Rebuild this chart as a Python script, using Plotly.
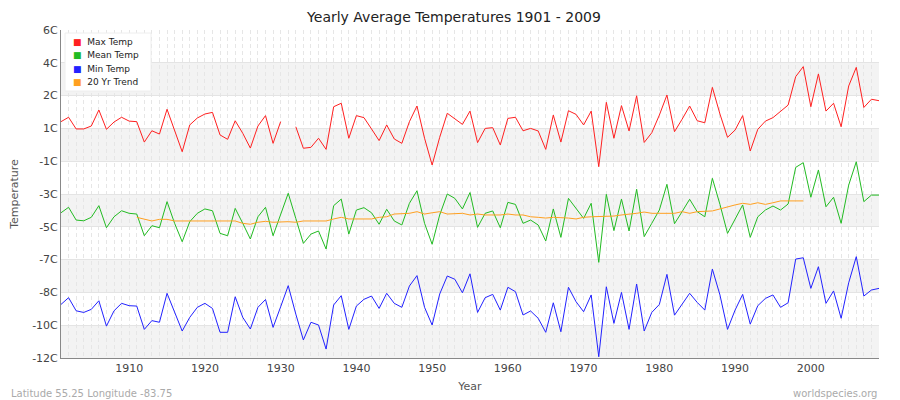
import plotly.graph_objects as go

years = list(range(1901, 2010))
max_temp = [0.97,1.21,0.57,0.57,0.73,1.61,0.55,0.95,1.21,1.0,0.97,-0.15,0.47,0.29,1.65,0.51,-0.68,0.79,1.17,1.39,1.48,0.24,0.0,1.02,0.33,-0.48,0.73,1.3,
 -0.22,0.97,None,0.69,-0.49,-0.44,0.06,-0.55,1.79,1.98,0.06,1.30,1.19,0.57,-0.07,0.79,0.02,-0.22,0.97,1.83,0.06,-1.41,0.11,1.43,1.15,0.82,1.55,
 -0.18,0.6,0.64,-0.31,1.15,1.21,0.47,0.6,0.46,-0.55,1.33,-0.15,1.57,1.37,0.79,1.55,-1.5,2.03,0.06,1.85,0.46,2.39,-0.17,0.36,1.33,2.43,0.42,
 1.10,1.83,1.02,0.91,2.85,1.39,0.11,0.51,1.30,-0.64,0.55,1.0,1.19,1.52,1.88,3.44,3.99,1.79,3.59,1.55,1.98,0.69,2.93,3.95,1.75,2.2,2.12]
mean_temp = [-4.03,-3.73,-4.43,-4.47,-4.28,-3.64,-4.85,-4.25,-3.92,-4.06,-4.10,-5.29,-4.74,-4.85,-3.42,-4.61,-5.62,-4.52,-4.06,-3.82,-3.92,-5.16,-5.29,-3.79,-4.61,-5.47,-4.25,-3.73,
 -5.29,-4.1,-2.96,-4.34,-5.71,-5.2,-5.03,-6.02,-3.64,-3.28,-5.2,-3.88,-3.75,-4.03,-4.66,-3.84,-4.48,-4.70,-3.51,-2.82,-4.61,-5.76,-4.15,-3.0,-3.24,-3.82,-2.92,
 -4.83,-4.06,-3.93,-4.85,-3.46,-3.57,-4.61,-4.43,-4.70,-5.58,-3.82,-5.38,-3.24,-3.79,-4.34,-3.51,-6.75,-3.02,-5.01,-3.28,-5.03,-2.74,-5.34,-4.61,-3.88,-2.47,-4.63,
 -3.97,-3.29,-3.97,-4.25,-2.14,-3.57,-5.16,-4.39,-3.6,-5.38,-4.25,-3.88,-3.66,-3.88,-3.55,-1.54,-1.28,-3.18,-1.68,-3.70,-3.18,-4.61,-2.51,-1.23,-3.42,-3.06,-3.06]
min_temp = [-9.06,-8.69,-9.41,-9.5,-9.33,-8.86,-10.25,-9.41,-9.0,-9.13,-9.15,-10.43,-9.95,-10.04,-8.45,-9.5,-10.52,-9.77,-9.22,-9.0,-9.28,-10.59,-10.59,-8.64,-9.77,-10.41,-9.22,-8.79,
 -10.32,-9.19,-8.03,-9.59,-11.01,-10.04,-10.19,-11.51,-9.09,-8.58,-10.43,-9.15,-8.78,-8.6,-9.28,-8.45,-9.0,-9.22,-8.05,-7.48,-9.22,-10.19,-8.49,-7.5,-7.68,-8.42,-7.38,
 -9.5,-8.69,-8.51,-9.37,-8.12,-8.36,-9.64,-9.42,-9.82,-10.59,-8.97,-10.56,-8.12,-8.91,-9.46,-8.54,-11.93,-8.09,-10.10,-8.40,-10.43,-7.94,-10.52,-9.5,-9.06,-7.41,-9.65,
 -9.06,-8.45,-8.95,-9.37,-7.12,-8.54,-10.43,-9.37,-8.51,-10.14,-9.13,-8.73,-8.54,-9.22,-8.97,-6.57,-6.50,-8.18,-6.99,-9.0,-8.32,-9.82,-7.87,-6.44,-8.6,-8.27,-8.18]
trend_years = list(range(1911, 2000))
trend = [-4.28,-4.39,-4.48,-4.39,-4.39,-4.48,-4.48,-4.48,-4.48,-4.48,-4.48,-4.48,-4.48,-4.48,-4.61,-4.66,-4.55,-4.50,
 -4.55,-4.52,-4.52,-4.55,-4.48,-4.48,-4.48,-4.48,-4.37,-4.28,-4.37,-4.37,-4.37,-4.37,-4.28,-4.25,-4.10,-4.06,-4.06,-3.97,-4.10,-4.03,-3.97,-4.10,-4.06,-4.06,-4.15,
 -4.10,-4.15,-4.15,-4.15,-4.10,-4.15,-4.15,-4.25,-4.28,-4.32,-4.28,-4.28,-4.32,-4.37,-4.28,-4.25,-4.25,-4.25,-4.21,-4.15,-4.12,-4.06,-3.99,-4.06,-4.06,-4.06,-4.06,
 -3.97,-4.06,-3.97,-3.97,-3.93,-3.82,-3.70,-3.60,-3.51,-3.57,-3.48,-3.57,-3.48,-3.38,-3.38,-3.38,-3.38]
y_tickvals = [6,4.2,2.4,0.6,-1.2,-3,-4.8,-6.6,-8.4,-10.2,-12]
y_ticktext = ["6C","4C","2C","1C","-1C","-3C","-5C","-7C","-8C","-10C","-12C"]
x_tickvals = [1910,1920,1930,1940,1950,1960,1970,1980,1990,2000]

series = [("Max Temp", years, max_temp, "#ff2020"), ("Mean Temp", years, mean_temp, "#22bb22"),
          ("Min Temp", years, min_temp, "#2222ff"), ("20 Yr Trend", trend_years, trend, "#ffa020")]

L, T, PW, PH = 53, 22, 818, 328
def px(fx): return (fx - L) / PW
def py(fy): return 1 - (fy - T) / PH

fig = go.Figure()
for name, xs, ys, c in series:
    fig.add_trace(go.Scatter(x=xs, y=ys, mode="lines", line=dict(color=c, width=1), showlegend=False, name=name))

for i in range(len(y_tickvals) - 1):
    if i % 2 == 1:
        fig.add_shape(type="rect", xref="paper", yref="y", x0=0, x1=1,
                      y0=y_tickvals[i+1], y1=y_tickvals[i], fillcolor="#f3f3f3",
                      line_width=0, layer="below")

# legend box
fig.add_shape(type="rect", xref="paper", yref="paper", x0=px(57), x1=px(143), y0=py(83), y1=py(25),
              fillcolor="white", line=dict(color="#eeeeee", width=1), layer="above")
for k, (name, xs, ys, c) in enumerate(series):
    fig.add_annotation(text=f"<span style='color:{c}'>■</span>  {name}", xref="paper", yref="paper",
                       x=px(63), y=py(34 + 13.3 * k), xanchor="left", yanchor="middle", showarrow=False,
                       font=dict(size=9, color="#222"))

fig.update_layout(
    width=892, height=392, paper_bgcolor="white", plot_bgcolor="white",
    margin=dict(l=L, r=21, t=T, b=42, autoexpand=False),
    font=dict(family="DejaVu Sans", size=11, color="#444"),
    showlegend=False,
    title=dict(text="Yearly Average Temperatures 1901 - 2009", x=0.5, xanchor="center", y=0.976,
               yanchor="middle", font=dict(size=14, color="#222")),
    xaxis=dict(range=[1901, 2009], tickvals=x_tickvals, showgrid=False, showline=True,
               linecolor="#888", ticks="", zeroline=False, automargin=False,
               title=dict(text="Year", standoff=8, font=dict(size=11, color="#555")),
               minor=dict(dtick=1, tick0=1901, showgrid=True, gridcolor="#e6e6e6", griddash="4px,3px")),
    yaxis=dict(range=[-12, 6], tickvals=y_tickvals, ticktext=y_ticktext, showgrid=True, automargin=False,
               gridcolor="#e4e4e4", showline=True, linecolor="#888", zeroline=False, ticks="",
               title=dict(text="Temperature", standoff=14, font=dict(size=11, color="#555"))),
)
fig.add_annotation(text="Latitude 55.25 Longitude -83.75", xref="paper", yref="paper", x=-0.064, y=-0.085,
                   xanchor="left", yanchor="top", showarrow=False, font=dict(size=10, color="#aaa"))
fig.add_annotation(text="worldspecies.org", xref="paper", yref="paper", x=1.0, y=-0.085,
                   xanchor="right", yanchor="top", showarrow=False, font=dict(size=10, color="#aaa"))
fig.write_html("out.html")
